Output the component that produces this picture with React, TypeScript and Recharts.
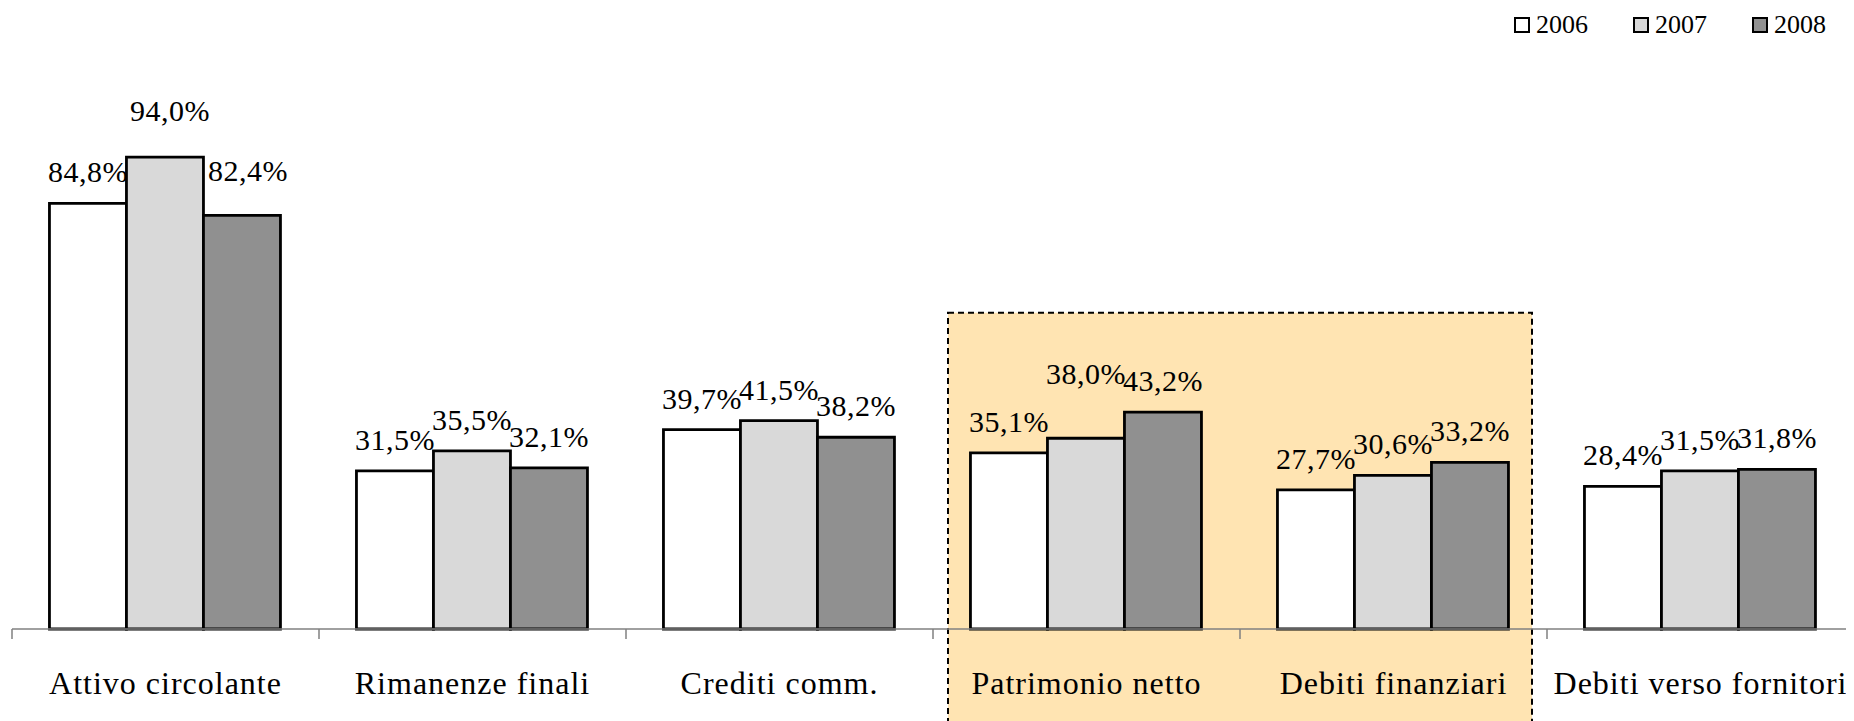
import React from 'react';
import { BarChart, Bar, XAxis, YAxis, LabelList, ReferenceArea } from 'recharts';

const categories = [
  'Attivo circolante',
  'Rimanenze finali',
  'Crediti comm.',
  'Patrimonio netto',
  'Debiti finanziari',
  'Debiti verso fornitori',
];
const seriesNames = ['2006', '2007', '2008'];
const values2006 = [84.8, 31.5, 39.7, 35.1, 27.7, 28.4];
const values2007 = [94.0, 35.5, 41.5, 38.0, 30.6, 31.5];
const values2008 = [82.4, 32.1, 38.2, 43.2, 33.2, 31.8];
const highlighted = ['Patrimonio netto', 'Debiti finanziari'];

const seriesKeys = ['y2006', 'y2007', 'y2008'];
const seriesFills = ['#FFFFFF', '#D9D9D9', '#909090'];

const data = categories.map((cat, i) => ({
  cat,
  y2006: values2006[i],
  y2007: values2007[i],
  y2008: values2008[i],
}));

// label lifts (Excel moved a few labels to avoid overlaps)
const labelNudge: Record<string, { dx: number; dy: number }> = {
  'Attivo circolante|y2007': { dx: 5, dy: -15 },
  'Attivo circolante|y2008': { dx: 6, dy: -13 },
  'Patrimonio netto|y2007': { dx: 0, dy: -33 },
};

const W = 1846;
const H = 713;
const MARGIN = { top: 119, right: 0, bottom: 0, left: 4 };
const BAND = (W - MARGIN.left - MARGIN.right) / categories.length;
const FONT = "Liberation Serif, Times New Roman, serif";

const fmt = (v: number) => v.toFixed(1).replace('.', ',') + '%';

const makeLabel = (key: string) => (props: any) => {
  const { x, y, width, value, index } = props;
  const n = labelNudge[`${categories[index]}|${key}`] || { dx: 0, dy: 0 };
  return (
    <text
      x={x + width / 2 + n.dx}
      y={y - 21 + n.dy}
      textAnchor="middle"
      style={{ fontFamily: FONT, fontSize: 30, letterSpacing: 0.5 }}
      fill="#000"
    >
      {fmt(value)}
    </text>
  );
};

const CategoryTick = (props: any) => {
  const { x, y, payload } = props;
  const half = BAND / 2;
  return (
    <g>
      <line x1={x - half} y1={y} x2={x - half} y2={y + 10} stroke="#808080" strokeWidth={1.5} />
      <text
        x={x}
        y={y + 54}
        textAnchor="middle"
        dominantBaseline="central"
        style={{ fontFamily: FONT, fontSize: 32, letterSpacing: 1 }}
        fill="#000"
      >
        {payload.value}
      </text>
    </g>
  );
};

const HighlightShape = (p: any) => (
  <rect
    x={p.x + 15}
    y={p.y}
    width={p.width - 30}
    height={p.height}
    fill="#FFE4B2"
    stroke="#000"
    strokeWidth={2}
    strokeDasharray="6 4"
  />
);

export default function App() {
  return (
    <div style={{ position: 'relative', width: W, height: H }}>
      <BarChart width={W} height={H} data={data} margin={MARGIN} barGap={0} barCategoryGap="12.2%">
        <ReferenceArea
          x1={highlighted[0]}
          x2={highlighted[1]}
          y1={-20}
          y2={63}
          ifOverflow="visible"
          shape={HighlightShape}
        />
        <XAxis
          dataKey="cat"
          height={92}
          tickSize={0}
          tickMargin={0}
          tickLine={false}
          axisLine={{ stroke: '#808080', strokeWidth: 1.5 }}
          tick={<CategoryTick />}
          interval={0}
        />
        <YAxis hide domain={[0, 100]} />
        {seriesKeys.map((k, i) => (
          <Bar
            key={k}
            dataKey={k}
            name={seriesNames[i]}
            fill={seriesFills[i]}
            stroke="#000"
            strokeWidth={2.8}
            isAnimationActive={false}
          >
            <LabelList dataKey={k} content={makeLabel(k)} />
          </Bar>
        ))}
      </BarChart>
      <div
        style={{
          position: 'absolute',
          top: 4,
          left: 1506,
          display: 'flex',
          alignItems: 'center',
          fontFamily: FONT,
          fontSize: 26,
          lineHeight: '26px',
        }}
      >
        {seriesNames.map((n, i) => (
          <div key={n} style={{ display: 'flex', alignItems: 'center', marginRight: i < 2 ? 45 : 0 }}>
            <span
              style={{
                display: 'inline-block',
                width: 12,
                height: 12,
                border: '2px solid #000',
                background: seriesFills[i],
                marginRight: 6,
              }}
            />
            <span>{n}</span>
          </div>
        ))}
      </div>
    </div>
  );
}
